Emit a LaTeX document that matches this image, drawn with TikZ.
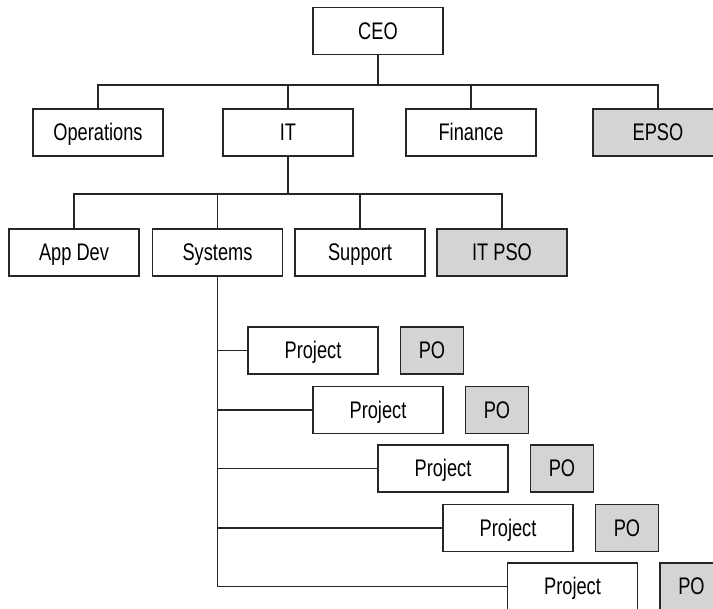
\documentclass[tikz,border=0pt]{standalone}
\usepackage{fontspec}
\setmainfont{Liberation Sans}[FakeStretch=0.76]
\usetikzlibrary{positioning}
\definecolor{pogray}{RGB}{211,212,214}
\tikzset{
unit/.style={draw=black!85,line width=1.5pt,minimum width=130pt,minimum height=47pt,inner sep=0pt,
  text height=17pt,text depth=0pt,font=\fontsize{24}{28}\selectfont},
staff/.style={unit,fill=pogray},
pobox/.style={staff,minimum width=63pt},
link/.style={draw=black!85,line width=1.5pt}
}
\begin{document}
\begin{tikzpicture}[x=1pt,y=-1pt]
\useasboundingbox (0,0) rectangle (713,609);
\begin{scope}
\clip (0,0) rectangle (713,609);
% top two levels
\node[unit] (ceo) at (378,31) {CEO};
\node[unit] (ops) at (98,132.5) {Operations};
\node[unit] (it) at (288,132.5) {IT};
\node[unit] (fin) at (471,132.5) {Finance};
\node[staff] (epso) at (658,132.5) {EPSO};
\coordinate (topbus) at (378,85);
\draw[link] (ceo) -- (topbus);
\draw[link] (ops.north) |- (topbus) -| (epso.north);
\draw[link] (it.north) -- (it.north |- topbus);
\draw[link] (fin.north) -- (fin.north |- topbus);
% IT level
\node[unit] (appdev) at (74,252.5) {App Dev};
\node[unit] (sys) at (217.5,252.5) {Systems};
\node[unit] (sup) at (360,252.5) {Support};
\node[staff] (itpso) at (502,252.5) {IT PSO};
\coordinate (itbus) at (288,194);
\draw[link] (it) -- (itbus);
\draw[link] (appdev.north) |- (itbus) -| (itpso.north);
\draw[link] (sys.north) -- (sys.north |- itbus);
\draw[link] (sup.north) -- (sup.north |- itbus);
% projects under Systems
\node[unit] (prj1) at (313,350.5) {Project};
\node[pobox,right=21pt of prj1] (po1) {PO};
\node[unit] (prj2) at (378,410) {Project};
\node[pobox,right=21pt of prj2] (po2) {PO};
\node[unit] (prj3) at (443,468.5) {Project};
\node[pobox,right=21pt of prj3] (po3) {PO};
\node[unit] (prj4) at (508,528) {Project};
\node[pobox,right=21pt of prj4] (po4) {PO};
\node[unit] (prj5) at (572.5,586.5) {Project};
\node[pobox,right=21pt of prj5] (po5) {PO};
\draw[link] (sys.south) |- (prj5.west);
\draw[link] (sys.south |- prj1.west) -- (prj1.west);
\draw[link] (sys.south |- prj2.west) -- (prj2.west);
\draw[link] (sys.south |- prj3.west) -- (prj3.west);
\draw[link] (sys.south |- prj4.west) -- (prj4.west);
\end{scope}
\end{tikzpicture}
\end{document}
